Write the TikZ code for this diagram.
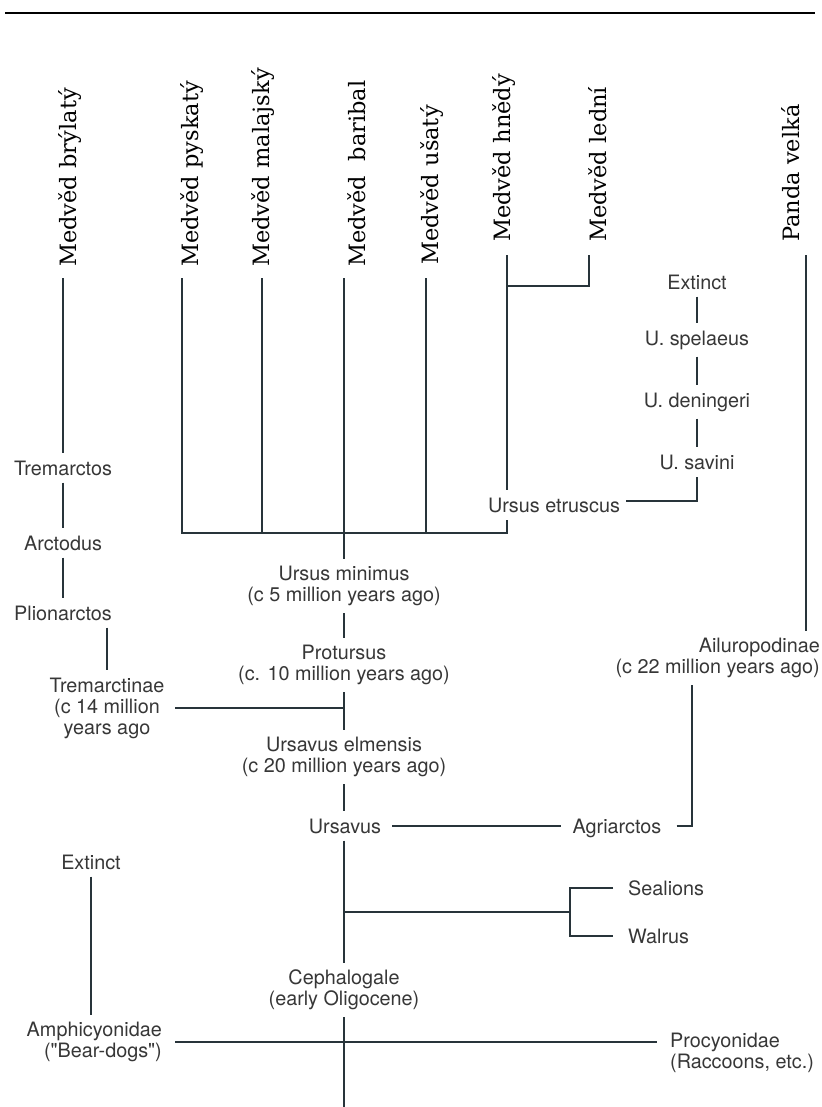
\documentclass[tikz,border=0pt]{standalone}
\usepackage{fontspec}
\setsansfont{TeX Gyre Heros}
\newfontfamily\speciesfont{DejaVu Serif}
\usetikzlibrary{positioning,calc}
\definecolor{linecol}{RGB}{40,52,58}
\definecolor{txtcol}{RGB}{55,55,55}

\begin{document}
\begin{tikzpicture}[x=1pt,y=-1pt,
	taxon/.style={font=\sffamily\fontsize{19.8}{21}\selectfont, text=txtcol,
		inner xsep=3pt, inner ysep=7pt, align=center},
	species/.style={font=\speciesfont\fontsize{22.5}{24}\selectfont, rotate=90,
		anchor=west, inner sep=0pt},
	branch/.style={draw=linecol, line width=1.7pt}
	]
	\useasboundingbox (0,0) rectangle (821,1107);
	\fill[white] (0,0) rectangle (821,1107);
	\draw[line width=2.4pt] (5,13) -- (815,13);

	\node[species] (bry)   at (70,267)  {Medvěd brýlatý};
	\node[species] (pysk)  at (192,267) {Medvěd pyskatý};
	\node[species] (malaj) at (263,267) {Medvěd malajský};
	\node[species] (barib) at (357,267) {Medvěd\ \ baribal};
	\node[species] (usat)  at (432,265) {Medvěd ušatý};
	\node[species] (hned)  at (504,242) {Medvěd hnědý};
	\node[species] (ledni) at (598,242) {Medvěd lední};
	\node[species] (panda) at (791,242) {Panda velká};

	\coordinate (bryfoot)   at (63,278);
	\coordinate (pyskfoot)  at (182,278);
	\coordinate (malajfoot) at (262,278);
	\coordinate (baribfoot) at (344,278);
	\coordinate (usatfoot)  at (426,278);
	\coordinate (hnedfoot)  at (507,255);
	\coordinate (lednifoot) at (589,255);
	\coordinate (pandafoot) at (806,255);
	\coordinate (bar)       at (507,533);
	\coordinate (root)      at (344,1107);

	\node[taxon] (tremarctos)   at (63,468)  {Tremarctos};
	\node[taxon] (arctodus)     at (63,543)  {Arctodus};
	\node[taxon] (plion)        at (63,613)  {Plionarctos};
	\node[taxon] (tremarctinae) at (107,708) {Tremarctinae\\(c 14 million\\years ago};
	\node[taxon] (minimus)      at (344,586) {Ursus minimus\\(c 5 million years ago)};
	\node[taxon] (protursus)    at (344,665) {Protursus\\(c. 10 million years ago)};
	\node[taxon] (elmensis)     at (344,757) {Ursavus elmensis\\(c 20 million years ago)};
	\node[taxon] (ursavus)      at (345,826) {Ursavus};
	\node[taxon] (cephalogale)  at (344,990) {Cephalogale\\(early Oligocene)};
	\node[taxon] (extinctL)     at (91,862)  {Extinct};
	\node[taxon, anchor=east, align=right] (amphi) at (165,1042) {Amphicyonidae\\(\textquotedbl Bear-dogs\textquotedbl)};
	\node[taxon, anchor=west, align=left]  (procy) at (667,1053) {Procyonidae\\(Raccoons, etc.)};
	\node[taxon, anchor=west] (sealions)   at (625,888) {Sealions};
	\node[taxon, anchor=west] (walrus)     at (625,936) {Walrus};
	\node[taxon] (agriarctos)   at (617,828) {Agriarctos};
	\node[taxon, anchor=east, align=right] (ailuro) at (823,658) {Ailuropodinae\\(c 22 million years ago)};
	\node[taxon] (etruscus)     at (554,505) {Ursus etruscus};
	\node[taxon] (savini)       at (697,462) {U. savini};
	\node[taxon] (deningeri)    at (697,402) {U. deningeri};
	\node[taxon] (spelaeus)     at (697,340) {U. spelaeus};
	\node[taxon] (extinctR)     at (697,282) {Extinct};

	\draw[branch] (bryfoot) -- (tremarctos);
	\draw[branch] (tremarctos) -- (arctodus);
	\draw[branch] (arctodus) -- (plion);
	\draw[branch] (plion.south -| tremarctinae.north) -- (tremarctinae.north);
	\draw[branch] ([xshift=8pt]tremarctinae.east) -- (tremarctinae.east -| protursus);

	\draw[branch] (pyskfoot) |- (bar) -- (bar |- etruscus.south);
	\draw[branch] (malajfoot) -- (malajfoot |- bar);
	\draw[branch] (usatfoot) -- (usatfoot |- bar);
	\draw[branch] (baribfoot) -- (minimus);
	\draw[branch] (minimus) -- (protursus);
	\draw[branch] (protursus) -- (elmensis);
	\draw[branch] (elmensis) -- (elmensis |- ursavus.north);
	\draw[branch] (elmensis |- ursavus.south) -- (cephalogale);
	\draw[branch] (cephalogale) -- (root);

	\draw[branch] (hnedfoot) -- (hnedfoot |- etruscus.north);
	\draw[branch] (lednifoot) |- ($(hnedfoot)+(0,31)$);
	\draw[branch] ([xshift=3pt,yshift=4pt]etruscus.east) -| (savini);
	\draw[branch] (extinctR) -- (spelaeus);
	\draw[branch] (spelaeus) -- (deningeri);
	\draw[branch] (deningeri) -- (savini);

	\draw[branch] (pandafoot) -- (pandafoot |- ailuro.north);
	\draw[branch] ([xshift=8pt]ursavus.east) -- ([xshift=-8pt]ursavus.east -| agriarctos.west);
	\draw[branch] ([xshift=12pt]agriarctos.east |- ursavus.east) -| ([xshift=-26pt]ailuro.south);

	\coordinate (pinfork) at ($(sealions.west)!0.5!(walrus.west)+(-55,0)$);
	\draw[branch] ([xshift=-12pt]sealions.west) -| (pinfork) |- ([xshift=-12pt]walrus.west);
	\draw[branch] (pinfork -| elmensis) -- (pinfork);

	\draw[branch] (extinctL) -- (extinctL |- amphi.north);
	\draw[branch] ([xshift=10pt]amphi.east) -- ([xshift=-10pt]amphi.east -| procy.west);
\end{tikzpicture}
\end{document}
